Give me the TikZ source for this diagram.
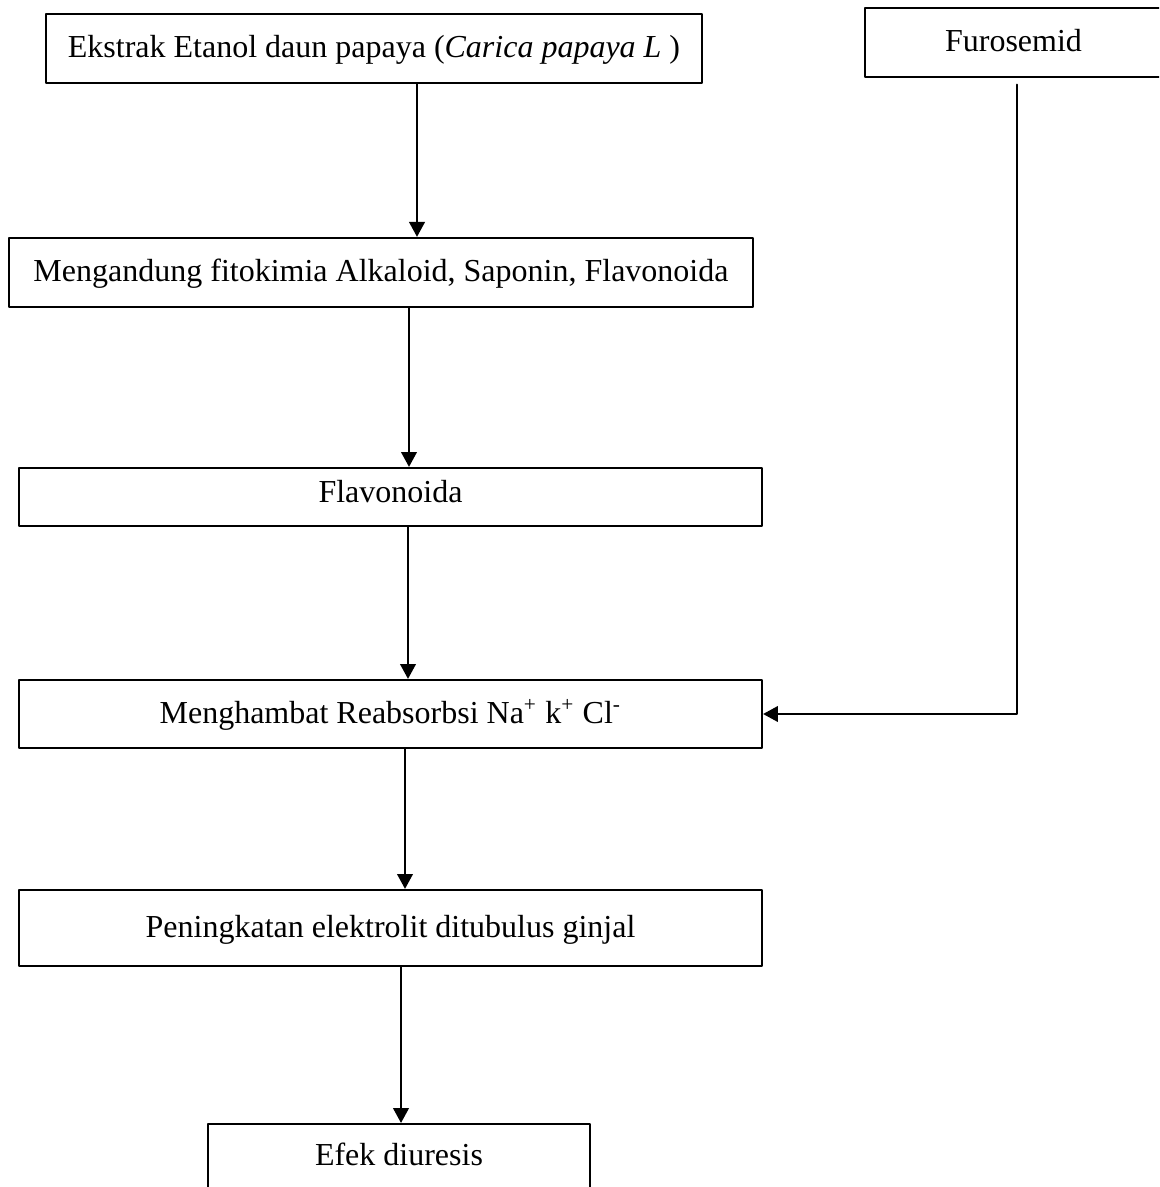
\documentclass[tikz,border=0pt]{standalone}
\usepackage{fontspec}
\setmainfont{Liberation Serif}
\usetikzlibrary{arrows.meta}
\begin{document}
\begin{tikzpicture}[yscale=-1, x=0.375pt, y=0.375pt, line join=round, line cap=round,
  box/.style={draw=black, line width=0.8pt, inner sep=0pt, text height=8.5pt, text depth=1.5pt,
    font=\fontsize{12}{14}\selectfont},
  arr/.style={draw=black, line width=0.95pt, -{Triangle[length=5.6pt, width=5.8pt]}}]
% Page frame
\useasboundingbox (0,0) rectangle (1159,1187);
\clip (0,0) rectangle (1159,1187);
% Boxes
\node[box, minimum width=246pt, minimum height=25.9pt] (ekstrak) at (374,48.5)
  {Ekstrak Etanol daun papaya (\textit{Carica papaya L} )};
\node[box, minimum width=111.4pt, minimum height=25.9pt] (furosemid) at (1013.5,42.5) {Furosemid};
\node[box, minimum width=279pt, minimum height=25.9pt] (fitokimia) at (381,272.5)
  {Mengandung fitokimia Alkaloid, Saponin, Flavonoida};
\node[box, minimum width=278.6pt, minimum height=21.75pt, text height=7pt, text depth=3pt] (flavonoida)
  at (390.5,497) {Flavonoida};
\node[box, minimum width=278.6pt, minimum height=25.5pt] (hambat) at (390.5,714)
  {Menghambat Reabsorbsi Na\textsuperscript{+} k\textsuperscript{+} Cl\textsuperscript{-}};
\node[box, minimum width=278.6pt, minimum height=28.5pt] (elektrolit) at (390.5,928)
  {Peningkatan elektrolit ditubulus ginjal};
\node[box, minimum width=143.25pt, anchor=north, inner ysep=8.7pt, text height=7pt, text depth=20pt] (efek)
  at (399,1123) {Efek diuresis};
% Connectors
\draw[arr] (ekstrak.south -| 417,0) -- (fitokimia.north -| 417,0);
\draw[arr] (fitokimia.south -| 409,0) -- (flavonoida.north -| 409,0);
\draw[arr] (flavonoida.south -| 408,0) -- (hambat.north -| 408,0);
\draw[arr] (hambat.south -| 405,0) -- (elektrolit.north -| 405,0);
\draw[arr] (elektrolit.south -| 401,0) -- (efek.north -| 401,0);
\draw[arr, shorten <=2.5pt] (furosemid.south -| 1017,0) |- (hambat.east);
\end{tikzpicture}
\end{document}
